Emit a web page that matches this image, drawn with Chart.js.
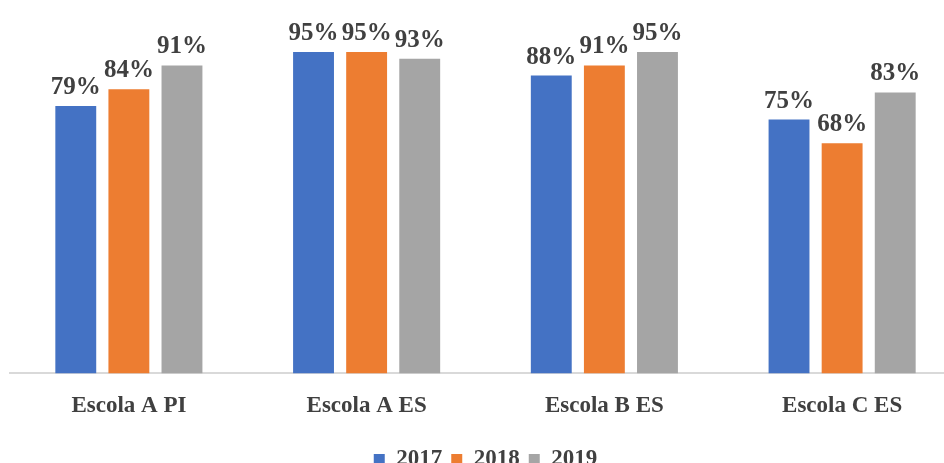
<!DOCTYPE html>
<html>
<head>
<meta charset="utf-8">
<script src="https://cdn.jsdelivr.net/npm/chart.js@4/dist/chart.umd.min.js"></script>
<style>
  html, body { margin: 0; padding: 0; background: #fff; overflow: hidden; }
  #wrap { position: absolute; left: 0; top: 0; width: 970px; height: 481px; }
</style>
</head>
<body>
<div id="wrap"><canvas id="chart"></canvas></div>
<script>
// categories and yearly values (%)
const schools = ['Escola A PI', 'Escola A ES', 'Escola B ES', 'Escola C ES'];
const years = ['2017', '2018', '2019'];
const values2017 = [79, 95, 88, 75];
const values2018 = [84, 95, 91, 68];
const values2019 = [91, 93, 95, 83];
const colors = ['#4472C4', '#ED7D31', '#A5A5A5'];

const serif = '"Liberation Serif", "Times New Roman", serif';

// draws the "79%" style labels above each bar
const barLabels = {
  id: 'barLabels',
  afterDatasetsDraw(chart) {
    const ctx = chart.ctx;
    ctx.save();
    ctx.font = 'bold 25px ' + serif;
    ctx.fillStyle = '#404040';
    ctx.textAlign = 'center';
    ctx.textBaseline = 'bottom';
    chart.data.datasets.forEach(function (ds, i) {
      const meta = chart.getDatasetMeta(i);
      meta.data.forEach(function (bar, j) {
        ctx.fillText(ds.data[j] + '%', bar.x, bar.y - 6);
      });
    });
    ctx.restore();
  }
};

const allValues = [values2017, values2018, values2019];

new Chart(document.getElementById('chart'), {
  type: 'bar',
  data: {
    labels: schools,
    datasets: years.map(function (y, i) {
      return {
        label: y,
        data: allValues[i],
        backgroundColor: colors[i],
        categoryPercentage: 0.67,
        barPercentage: 0.77
      };
    })
  },
  options: {
    responsive: true,
    maintainAspectRatio: false,
    animation: false,
    layout: { padding: { top: 35, left: 10, right: 9, bottom: 0 } },
    scales: {
      y: { display: false, min: 0, max: 100 },
      x: {
        grid: { display: false, drawTicks: false },
        border: { display: true, color: '#d9d9d9', width: 2 },
        ticks: {
          color: '#404040',
          padding: 19,
          font: { family: serif, size: 23, weight: 'bold' }
        }
      }
    },
    plugins: {
      tooltip: { enabled: false },
      legend: {
        position: 'bottom',
        labels: {
          color: '#404040',
          boxWidth: 11,
          boxHeight: 11,
          padding: 9,
          font: { family: serif, size: 23, weight: 'bold' }
        }
      }
    }
  },
  plugins: [barLabels]
});
</script>
</body>
</html>
